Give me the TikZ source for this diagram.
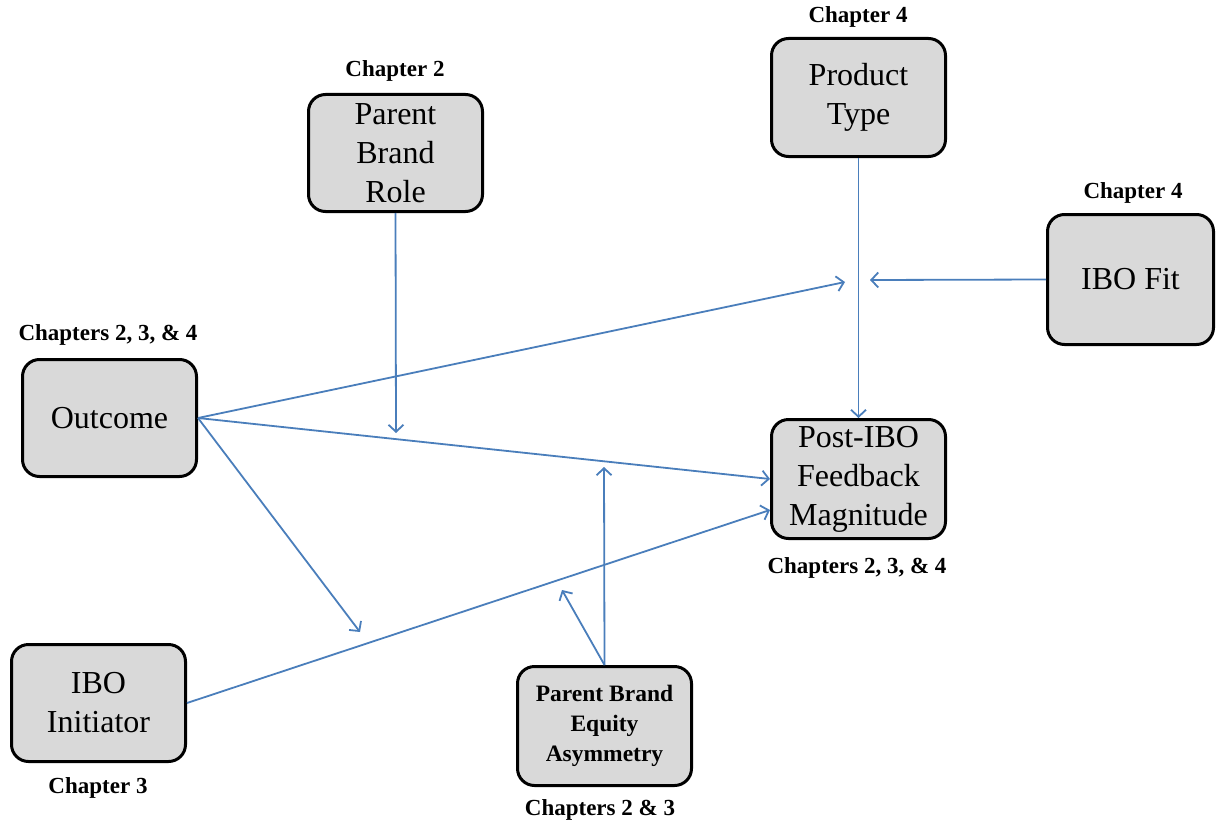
\documentclass[tikz,border=0pt]{standalone}
\usepackage{fontspec}
\setmainfont{Liberation Serif}
\usetikzlibrary{arrows.meta}
\definecolor{boxfill}{HTML}{D9D9D9}
\definecolor{linkblue}{HTML}{4A7EBB}
\begin{document}
\begin{tikzpicture}[x=1pt,y=-1pt,
  box/.style={draw=black, line width=3pt, fill=boxfill, rounded corners=17pt,
    minimum width=174pt, minimum height=117pt, inner sep=0pt, align=center,
    font=\fontsize{32}{39}\selectfont},
  smallbox/.style={box, font=\bfseries\fontsize{23.5}{30}\selectfont},
  chap/.style={font=\bfseries\fontsize{23}{26}\selectfont, inner sep=0pt},
  link/.style={draw=linkblue, line width=1.8pt,
    -{Straight Barb[length=7pt,width=15pt,line width=1.8pt]}}]
\useasboundingbox (0,0) rectangle (1217,824);

% boxes
\node[box] (role) at (395.5,153) {Parent\\Brand\\Role};
\node[box, minimum height=118pt] (ptype) at (858.5,97.5) {Product\\Type};
\node[box, minimum width=166pt, minimum height=130pt] (fit) at (1130.5,279.5) {IBO Fit};
\node[box] (outcome) at (109.5,418) {Outcome};
\node[box, minimum height=119pt] (post) at (858.5,479) {Post-IBO\\Feedback\\Magnitude};
\node[box] (init) at (98.5,703) {IBO\\Initiator};
\node[smallbox, minimum height=119pt] (equity) at (604.5,726) {Parent Brand\\Equity\\Asymmetry};

% chapter labels
\node[chap] (roleChap) at (395,71) {Chapter 2};
\node[chap] (ptypeChap) at (858,17) {Chapter 4};
\node[chap] (fitChap) at (1133,193) {Chapter 4};
\node[chap] (outcomeChap) at (108,335) {Chapters 2, 3, \& 4};
\node[chap] (postChap) at (857,568) {Chapters 2, 3, \& 4};
\node[chap] (initChap) at (98,788) {Chapter 3};
\node[chap] (equityChap) at (600,810) {Chapters 2 \& 3};

% free ends of the moderating arrows
\coordinate (roleEnd) at (396,433);
\coordinate (fitEnd) at (870,280);
\coordinate (outFitEnd) at (845,282);
\coordinate (outInitEnd) at (360,632);
\coordinate (postLow) at (770,510);
\coordinate (eqUp) at (604,467);
\coordinate (eqDiag) at (562,590);

% connectors
\draw[link] (role.south) -- (roleEnd);
\draw[link] (ptype.south) -- (post.north);
\draw[link] (fit.west) -- (fitEnd);
\draw[link] (outcome.east) -- (outFitEnd);
\draw[link] (outcome.east) -- (post.west);
\draw[link] (outcome.east) -- (outInitEnd);
\draw[link] (init.east) -- (postLow);
\draw[link] (equity.north) -- (eqUp);
\draw[link] (equity.north) -- (eqDiag);
\end{tikzpicture}
\end{document}
